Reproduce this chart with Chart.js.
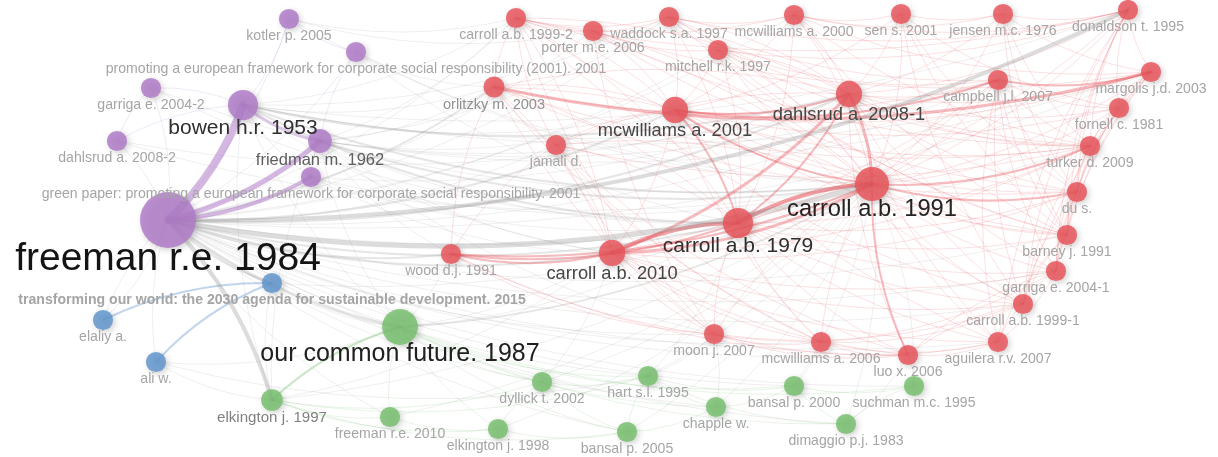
<!DOCTYPE html>
<html><head><meta charset="utf-8">
<script src="https://cdn.jsdelivr.net/npm/chart.js@4.4.1/dist/chart.umd.min.js"></script>
<style>html,body{margin:0;padding:0;background:#fff;}#wrap{width:1218px;height:457px;position:relative;}</style>
</head><body><div id="wrap"><canvas id="c"></canvas></div>
<script>
// ---- data: co-citation map (VOSviewer layout coordinates) ----
const nodeLabels = [
 'freeman r.e. 1984','bowen h.r. 1953','friedman m. 1962','kotler p. 2005',
 'promoting a european framework for corporate social responsibility (2001). 2001',
 'garriga e. 2004-2','dahlsrud a. 2008-2',
 'green paper: promoting a european framework for corporate social responsibility. 2001',
 'transforming our world: the 2030 agenda for sustainable development. 2015','elaliy a.','ali w.',
 'our common future. 1987','elkington j. 1997','freeman r.e. 2010','dyllick t. 2002','hart s.l. 1995',
 'elkington j. 1998','bansal p. 2005','chapple w.','bansal p. 2000','suchman m.c. 1995','dimaggio p.j. 1983',
 'carroll a.b. 1991','carroll a.b. 1979','carroll a.b. 2010','mcwilliams a. 2001','dahlsrud a. 2008-1',
 'carroll a.b. 1999-2','porter m.e. 2006','waddock s.a. 1997','mcwilliams a. 2000','mitchell r.k. 1997',
 'sen s. 2001','jensen m.c. 1976','donaldson t. 1995','orlitzky m. 2003','campbell j.l. 2007',
 'margolis j.d. 2003','fornell c. 1981','jamali d.','turker d. 2009','du s.','wood d.j. 1991',
 'barney j. 1991','garriga e. 2004-1','carroll a.b. 1999-1','moon j. 2007','mcwilliams a. 2006',
 'luo x. 2006','aguilera r.v. 2007'
];
const nodeX = [168,243,320,289,356,151,117,311, 272,103,156, 400,272,390,542,648,498,627,716,794,914,846,
 872,738,612,675,849,516,593,669,794,718,901,1003,1128,494,998,1151,1119,556,1090,1077,451,1067,1056,1023,714,821,908,998];
const nodeY = [220,105,141,19,52,88,141,177, 283,320,362, 327,400,417,382,376,429,432,407,386,386,424,
 184,223,253,110,94,18,31,17,15,50,14,14,10,87,80,72,108,145,146,192,254,235,271,304,334,342,355,342];
const nodeWeight = [100,29,18,13,13,13,13,13, 13,13,13, 41,15,13,13,13,13,13,13,13,13,13,
 37,29,22,22,22,13,13,13,13,13,13,13,13,14,13,13,13,13,13,13,13,13,13,13,13,13,13,13];
const nodeCluster = [0,0,0,0,0,0,0,0, 1,1,1, 2,2,2,2,2,2,2,2,2,2,2,
 3,3,3,3,3,3,3,3,3,3,3,3,3,3,3,3,3,3,3,3,3,3,3,3,3,3,3,3];
const clusterNames = ['Cluster 1','Cluster 2','Cluster 3','Cluster 4'];
const edgeList = (
 '0-1:8 0-2:5 1-2:3 0-7:4 0-3 0-4 0-5 0-6 1-5 1-3 1-6 1-7 2-7 5-6 3-4 4-2 ' +
 '0-22:5 0-34:4 12-0:4 0-11:3 0-23:2 0-25:2 0-26:2 0-24:2 0-8:2 0-9 0-10 0-42:2 0-35:2 0-39 0-27 0-28 0-29 0-30 0-31 0-36 0-37 0-43 0-40 0-44 0-45 0-46 0-47 0-14 0-15 0-17 0-13 0-19 0-20 0-21 0-18 0-48 0-49 ' +
 '1-22:2 1-23:2 1-26:2 1-25 1-35 1-27 1-24 1-29 1-34 1-37 1-36 1-12 1-11 ' +
 '2-22:2 2-23 2-24 2-25 2-26 2-35 2-42 2-27 2-29 2-36 2-37 2-11 2-12 2-46 ' +
 '3-27 3-22 3-28 4-35 4-22 4-23 5-22 5-23 6-22 6-26 7-22 7-26 7-23 7-24 ' +
 '8-9:2 8-10:2 8-11 8-12 8-22 9-0 10-12 10-11 10-15 ' +
 '11-12:2 11-13 11-14 11-15 11-16 11-17 11-18 11-19 11-20 11-21 12-13 12-14 12-16 12-15 14-15 14-16 14-17 15-17 15-18 15-19 15-21 17-18 18-19 19-20 19-21 20-21 16-17 13-16 12-17 ' +
 '11-22:2 11-23 11-24 11-42 15-22 15-23 15-46 14-22 14-24 17-22 18-46 18-22 19-22 19-47 20-48 20-22 21-22 21-48 12-22 12-24 16-22 13-22 ' +
 '22-23:4 23-24:4 24-26:3 22-26:3 24-22:3 42-22:2 42-23:2 42-24:2 35-37:3 25-22:2 25-36:2 36-37:2 25-26:2 22-40:2 22-41:2 22-48:2 22-45 22-44 22-43 22-38 22-37 22-36 22-34 22-33 22-32 22-31 22-30 22-29 22-28 22-27 22-35 22-39 22-46 22-47 22-49 ' +
 '23-25:2 23-26:2 23-27 23-29 23-30 23-31 23-34 23-35 23-36 23-39 23-43 23-44 23-45 23-46 23-47 23-48 23-49 23-40 23-41 ' +
 '24-25 24-39 24-35 24-27 24-46 24-47 24-48 24-49 24-44 24-45 24-36 24-41 24-40 ' +
 '25-35 25-27 25-28 25-29 25-30 25-31 25-32 25-37 25-38 25-39 25-40 25-41 25-43 25-47 25-49 ' +
 '26-27 26-29 26-30 26-31 26-32 26-33 26-34 26-35 26-36 26-37 26-38 26-39 26-40 26-41 26-44 26-45 26-48 26-49 ' +
 '27-28 27-29 27-30 27-34 27-35 27-39 27-45 28-29 28-31 28-37 28-41 29-30 29-31 29-34 29-36 30-32 30-33 30-34 30-37 31-34 31-36 31-40 32-33 32-41 32-38 33-34 33-37 33-43 34-37 34-38 34-40 34-41 34-43 34-44 34-45 34-49 35-36 35-39 35-40 35-41 35-42 36-38 36-40 36-49 37-38 37-40 37-41 37-43 38-40 38-41 39-40 39-42 39-46 40-41 40-43 41-43 43-44 44-45 45-49 46-47 46-48 47-48 48-49 42-46 49-44 38-43 36-45 ' +
 '43-45 43-49 44-48 45-48 41-44 41-45 40-44 40-45 38-44 37-44 37-45 36-43 36-44 36-41 33-41 33-40 32-43 32-45 30-40 30-43 31-43 31-45 29-43 29-40 27-43 28-40 46-49 47-49 46-45 47-45 47-44 35-46 35-47 39-47 39-48 42-47 42-48 27-46 28-46'
).split(' ');

// ---- styles ----
const clusterRGB = ['176,124,200','98,150,205','120,192,112','232,86,92'];
const grayRGB = '140,140,140';
const FONT = 'Arial, "Liberation Sans", sans-serif';
const boldLabels = {8: true};

const edges = edgeList.map(s => {
  const [pair, w] = s.split(':');
  const [a, b] = pair.split('-').map(Number);
  return {a, b, w: w ? Number(w) : 1};
});

const radiusOf = w => 2.8 * Math.sqrt(w);
const fontOf = w => Math.max(14, 3.9 * Math.sqrt(w));
const lumOf = w => Math.round(17 + 148 * Math.pow(13 / w, 2));

const datasets = clusterNames.map((name, c) => ({
  label: name,
  data: nodeX.map((x, i) => ({x, y: nodeY[i], r: radiusOf(nodeWeight[i]), i}))
             .filter(p => nodeCluster[p.i] === c),
  backgroundColor: 'rgba(' + clusterRGB[c] + ',0.85)',
  borderColor: 'rgba(' + clusterRGB[c] + ',0.9)',
  borderWidth: 0,
  clip: false
}));

const edgePlugin = {
  id: 'edges',
  beforeDatasetsDraw(chart) {
    const ctx = chart.ctx, xs = chart.scales.x, ys = chart.scales.y;
    ctx.save();
    ctx.lineCap = 'round';
    const order = edges.slice().sort((p, q) => p.w - q.w);
    order.forEach(e => {
      const x1 = xs.getPixelForValue(nodeX[e.a]), y1 = ys.getPixelForValue(nodeY[e.a]);
      const x2 = xs.getPixelForValue(nodeX[e.b]), y2 = ys.getPixelForValue(nodeY[e.b]);
      const dx = x2 - x1, dy = y2 - y1;
      const k = 0.12;
      const cx = (x1 + x2) / 2 - dy * k, cy = (y1 + y2) / 2 + dx * k;
      const same = nodeCluster[e.a] === nodeCluster[e.b];
      const rgb = same ? clusterRGB[nodeCluster[e.a]] : grayRGB;
      let alpha;
      if (same) alpha = e.w >= 4 ? 0.55 : (e.w >= 2 ? 0.4 : 0.2);
      else alpha = e.w >= 4 ? 0.3 : (e.w >= 2 ? 0.22 : 0.16);
      ctx.strokeStyle = 'rgba(' + rgb + ',' + alpha + ')';
      ctx.lineWidth = e.w === 1 ? 0.9 : e.w;
      ctx.beginPath();
      ctx.moveTo(x1, y1);
      ctx.quadraticCurveTo(cx, cy, x2, y2);
      ctx.stroke();
    });
    ctx.restore();
    ctx.save();
    ctx.shadowColor = 'rgba(0,0,0,0.22)';
    ctx.shadowBlur = 6;
    ctx.shadowOffsetX = 2;
    ctx.shadowOffsetY = 2;
  },
  afterDatasetsDraw(chart) {
    const ctx = chart.ctx;
    ctx.restore();
    const xs = chart.scales.x, ys = chart.scales.y;
    ctx.save();
    ctx.textAlign = 'center';
    ctx.textBaseline = 'middle';
    const idx = nodeLabels.map((_, i) => i).sort((p, q) => nodeWeight[p] - nodeWeight[q]);
    idx.forEach(i => {
      const w = nodeWeight[i];
      const fs = fontOf(w);
      const px = xs.getPixelForValue(nodeX[i]);
      const py = ys.getPixelForValue(nodeY[i]) + 0.9 * fs + 4.5;
      const l = lumOf(w);
      ctx.font = (boldLabels[i] ? 'bold ' : '') + fs.toFixed(1) + 'px ' + FONT;
      ctx.fillStyle = 'rgb(' + l + ',' + l + ',' + l + ')';
      ctx.fillText(nodeLabels[i], px, py);
    });
    ctx.restore();
  }
};

new Chart(document.getElementById('c'), {
  type: 'bubble',
  data: { datasets },
  options: {
    responsive: true,
    maintainAspectRatio: false,
    animation: false,
    layout: { padding: 0, autoPadding: false },
    plugins: { legend: { display: false }, tooltip: { enabled: false } },
    scales: {
      x: { type: 'linear', min: 0, max: 1218, display: false },
      y: { type: 'linear', min: 0, max: 457, reverse: true, display: false }
    }
  },
  plugins: [edgePlugin]
});
</script>
</body></html>
